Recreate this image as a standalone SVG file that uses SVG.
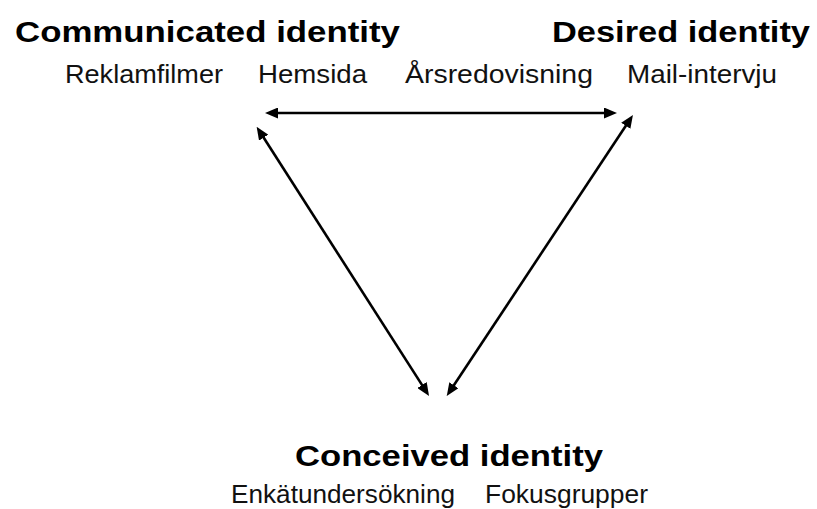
<svg xmlns="http://www.w3.org/2000/svg" width="817" height="509" viewBox="0 0 817 509">
<style>
.t{font-family:"Liberation Sans",Arial,Helvetica,sans-serif;font-weight:bold;font-size:29px;fill:#000}
.s{font-family:"Liberation Sans",Arial,Helvetica,sans-serif;font-size:26px;fill:#111}
.c{stroke:#000;stroke-width:2.6;fill:none;marker-start:url(#ah);marker-end:url(#ah)}
</style>
<defs>
<marker id="ah" viewBox="0 0 13 11" markerWidth="13" markerHeight="11" markerUnits="userSpaceOnUse" refX="4" refY="5.5" orient="auto-start-reverse">
<path d="M0,0 L13,5.5 L0,11 z" fill="#000"/>
</marker>
</defs>
<rect width="817" height="509" fill="#fff"/>
<g id="communicated">
<text class="t" x="15" y="42" textLength="385" lengthAdjust="spacingAndGlyphs">Communicated identity</text>
<text class="s" x="65" y="83" textLength="158" lengthAdjust="spacingAndGlyphs">Reklamfilmer</text>
<text class="s" x="258" y="83" textLength="109" lengthAdjust="spacingAndGlyphs">Hemsida</text>
</g>
<g id="desired">
<text class="t" x="552" y="42" textLength="258" lengthAdjust="spacingAndGlyphs">Desired identity</text>
<text class="s" x="405" y="83" textLength="188" lengthAdjust="spacingAndGlyphs">Årsredovisning</text>
<text class="s" x="627" y="83" textLength="150" lengthAdjust="spacingAndGlyphs">Mail-intervju</text>
</g>
<g id="conceived">
<text class="t" x="295" y="466" textLength="308" lengthAdjust="spacingAndGlyphs">Conceived identity</text>
<text class="s" x="231" y="503" textLength="224" lengthAdjust="spacingAndGlyphs">Enkätundersökning</text>
<text class="s" x="485" y="503" textLength="163" lengthAdjust="spacingAndGlyphs">Fokusgrupper</text>
</g>
<g id="connectors">
<line class="c" x1="274" y1="113" x2="608" y2="113"/>
<line class="c" x1="261.5" y1="134.3" x2="424.2" y2="388.4"/>
<line class="c" x1="628" y1="122.5" x2="451.7" y2="388.5"/>
</g>
</svg>
